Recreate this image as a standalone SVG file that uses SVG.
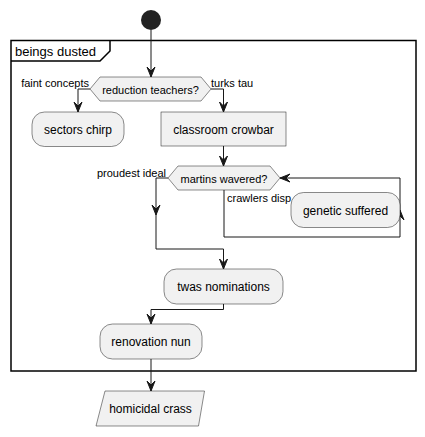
<svg xmlns="http://www.w3.org/2000/svg" width="425" height="437" viewBox="0 0 425 437">
<style>
text{font-family:"Liberation Sans",Arial,sans-serif}
.n{font-size:12px;text-anchor:middle}
.l{font-size:11px}
.d{font-size:11px;text-anchor:middle}
.box{fill:#F1F1F1;stroke:#181818;stroke-width:0.5}
.ln{fill:none;stroke:#181818;stroke-width:1}
.ah{fill:#181818;stroke:#181818;stroke-width:1}
</style>
<defs>
<polygon id="ad" points="-4,-10 0,0 4,-10 0,-6"/>
</defs>
<rect width="425" height="437" fill="#FFFFFF"/>
<g id="frame">
<rect x="11" y="40.5" width="405" height="330.5" fill="none" stroke="#000" stroke-width="1.5"/>
<path d="M11,61 L100,61 L110,51 L110,40.5" fill="none" stroke="#000" stroke-width="1.5"/>
<text x="15" y="56" fill="#000000" style="font-size:13px">beings dusted</text>
</g>
<g id="start"><circle cx="151" cy="20" r="10" fill="#222222"/></g>
<g id="connectors" fill="#000000">
<path class="ln" d="M151,30 L151,77"/>
<use href="#ad" class="ah" transform="translate(151,77)"/>
<path class="ln" d="M90,89 L78,89 L78,112"/>
<use href="#ad" class="ah" transform="translate(78,112)"/>
<text class="l" x="89" y="87" text-anchor="end" fill="#000000">faint concepts</text>
<path class="ln" d="M211,89 L223.5,89 L223.5,112"/>
<use href="#ad" class="ah" transform="translate(223.5,112)"/>
<text class="l" x="211" y="87" fill="#000000">turks tau</text>
<path class="ln" d="M223.5,146 L223.5,166"/>
<use href="#ad" class="ah" transform="translate(223.5,166)"/>
<path class="ln" d="M168,178 L156,178 L156,249 L223.5,249 L223.5,269"/>
<use href="#ad" class="ah" transform="translate(156,215)"/>
<use href="#ad" class="ah" transform="translate(223.5,269)"/>
<text class="l" x="166" y="177" text-anchor="end" fill="#000000">proudest ideal</text>
<path class="ln" d="M224,190 L224,237 L400,237 L400,178 L280,178"/>
<use href="#ad" class="ah" transform="translate(400,210) rotate(180)"/>
<use href="#ad" class="ah" transform="translate(280,178) rotate(90)"/>
<text class="l" x="227" y="201.5" fill="#000000">crawlers disp</text>
<path class="ln" d="M223.5,304 L223.5,309.5 L151,309.5 L151,324"/>
<use href="#ad" class="ah" transform="translate(151,324)"/>
<path class="ln" d="M151,359 L151,391"/>
<use href="#ad" class="ah" transform="translate(151,391)"/>
</g>
<g id="reduction-teachers">
<polygon class="box" points="90,89 100,77 201,77 211,89 201,101 100,101"/>
<text class="d" x="150.5" y="94" fill="#000000">reduction teachers?</text>
</g>
<g id="sectors-chirp">
<rect class="box" x="32" y="112" width="92" height="34.5" rx="12.5"/>
<text class="n" x="78" y="133.5" fill="#000000">sectors chirp</text>
</g>
<g id="classroom-crowbar">
<rect class="box" x="161" y="112" width="125" height="34"/>
<text class="n" x="223.5" y="133.5" fill="#000000">classroom crowbar</text>
</g>
<g id="martins-wavered">
<polygon class="box" points="168,178 178,166 270,166 280,178 270,190 178,190"/>
<text class="d" x="224" y="182.5" fill="#000000">martins wavered?</text>
</g>
<g id="genetic-suffered">
<rect class="box" x="291" y="192.5" width="109" height="35" rx="12.5"/>
<text class="n" x="345.5" y="214.5" fill="#000000">genetic suffered</text>
</g>
<g id="twas-nominations">
<rect class="box" x="164" y="269" width="119" height="35" rx="12.5"/>
<text class="n" x="223.5" y="291" fill="#000000">twas nominations</text>
</g>
<g id="renovation-nun">
<rect class="box" x="100" y="324" width="102" height="35" rx="12.5"/>
<text class="n" x="151" y="346" fill="#000000">renovation nun</text>
</g>
<g id="homicidal-crass">
<polygon class="box" points="105,391 204.5,391 198.5,426 96,426"/>
<text class="n" x="150.5" y="413" fill="#000000">homicidal crass</text>
</g>
</svg>
